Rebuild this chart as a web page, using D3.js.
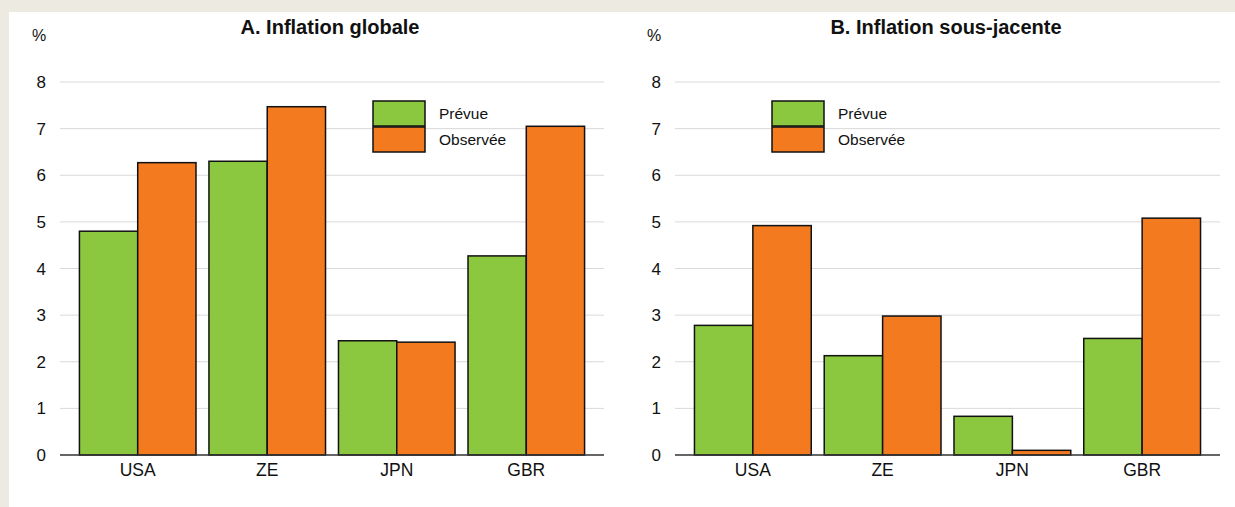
<!DOCTYPE html>
<html>
<head>
<meta charset="utf-8">
<script src="https://cdn.jsdelivr.net/npm/d3@7"></script>
<style>
  body { margin: 0; background: #edebe1; }
  svg { display: block; font-family: "Liberation Sans", Arial, sans-serif; }
</style>
</head>
<body>
<svg id="chart" width="1235" height="507"></svg>
<script>
// data
const categories = ["USA", "ZE", "JPN", "GBR"];
const seriesNames = ["Prévue", "Observée"];
const headlinePrevue = [4.8, 6.3, 2.45, 4.27];
const headlineObservee = [6.27, 7.47, 2.42, 7.05];
const corePrevue = [2.78, 2.13, 0.83, 2.5];
const coreObservee = [4.92, 2.98, 0.1, 5.08];
const yTicks = [0, 1, 2, 3, 4, 5, 6, 7, 8];
const colors = ["#8cc83f", "#f47a20"];

const svg = d3.select("#chart");

svg.append("rect")
    .attr("x", 9).attr("y", 12)
    .attr("width", 1235 - 9).attr("height", 507 - 12)
    .attr("fill", "#fff");

function drawPanel(opts) {
    const g = svg.append("g");
    const x0 = opts.left, x1 = opts.right;
    const y = d3.scaleLinear().domain([0, 8]).range([455, 82]);
    const x = d3.scaleBand()
        .domain(categories)
        .range([x0, x1])
        .paddingInner(0.1)
        .paddingOuter(0.15);
    const xs = d3.scaleBand()
        .domain(seriesNames)
        .range([0, x.bandwidth()]);

    // grid
    g.append("g")
        .selectAll("line")
        .data(yTicks.filter(d => d > 0))
        .join("line")
        .attr("x1", x0).attr("x2", x1)
        .attr("y1", d => y(d)).attr("y2", d => y(d))
        .attr("stroke", "#d9d9d9")
        .attr("stroke-width", 1);

    // y labels
    g.append("g")
        .selectAll("text")
        .data(yTicks)
        .join("text")
        .attr("x", x0 - 14)
        .attr("y", d => y(d))
        .attr("dy", "0.36em")
        .attr("text-anchor", "end")
        .attr("font-size", 17)
        .attr("fill", "#111")
        .text(d => d);

    g.append("text")
        .attr("x", x0 - 21)
        .attr("y", 41)
        .attr("text-anchor", "middle")
        .attr("font-size", 16)
        .attr("fill", "#111")
        .text("%");

    g.append("text")
        .attr("x", opts.titleX)
        .attr("y", 34)
        .attr("text-anchor", "middle")
        .attr("font-size", 20)
        .attr("font-weight", "bold")
        .attr("fill", "#111")
        .text(opts.title);

    // bars
    const rows = categories.map((c, i) => ({cat: c, vals: [opts.a[i], opts.b[i]]}));
    g.append("g")
        .selectAll("g")
        .data(rows)
        .join("g")
        .attr("transform", d => `translate(${x(d.cat)},0)`)
        .selectAll("rect")
        .data(d => d.vals.map((v, j) => ({name: seriesNames[j], v: v, j: j})))
        .join("rect")
        .attr("x", d => xs(d.name))
        .attr("width", xs.bandwidth())
        .attr("y", d => y(d.v))
        .attr("height", d => y(0) - y(d.v))
        .attr("fill", d => colors[d.j])
        .attr("stroke", "#111")
        .attr("stroke-width", 1.5);

    // x axis
    g.append("line")
        .attr("x1", x0).attr("x2", x1)
        .attr("y1", y(0)).attr("y2", y(0))
        .attr("stroke", "#333")
        .attr("stroke-width", 1.5);

    g.append("g")
        .selectAll("text")
        .data(categories)
        .join("text")
        .attr("x", d => x(d) + x.bandwidth() / 2)
        .attr("y", 476)
        .attr("text-anchor", "middle")
        .attr("font-size", 17.5)
        .attr("fill", "#111")
        .text(d => d);

    // legend
    const lg = g.append("g")
        .attr("transform", `translate(${opts.legendX},101)`);
    lg.selectAll("rect")
        .data(seriesNames)
        .join("rect")
        .attr("x", 0)
        .attr("y", (d, i) => i * 26)
        .attr("width", 52)
        .attr("height", 25)
        .attr("fill", (d, i) => colors[i])
        .attr("stroke", "#111")
        .attr("stroke-width", 1.5);
    lg.selectAll("text")
        .data(seriesNames)
        .join("text")
        .attr("x", 66)
        .attr("y", (d, i) => i * 26 + 12.5)
        .attr("dy", "0.36em")
        .attr("font-size", 15.5)
        .attr("fill", "#111")
        .text(d => d);
}

drawPanel({
    left: 60, right: 604, title: "A. Inflation globale", titleX: 330,
    a: headlinePrevue, b: headlineObservee, legendX: 373
});
drawPanel({
    left: 675, right: 1220, title: "B. Inflation sous-jacente", titleX: 946,
    a: corePrevue, b: coreObservee, legendX: 772
});
</script>
</body>
</html>
